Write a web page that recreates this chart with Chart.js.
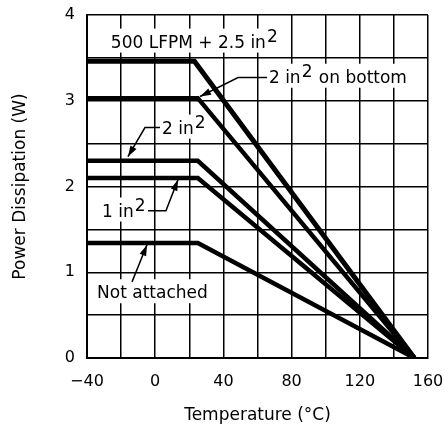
<!DOCTYPE html>
<html>
<head>
<meta charset="utf-8">
<script src="https://cdn.jsdelivr.net/npm/chart.js@4"></script>
<style>
html,body{margin:0;padding:0;background:#fff;}
#wrap{width:445px;height:430px;}
</style>
</head>
<body>
<div id="wrap"><canvas id="pd"></canvas></div>
<script>
//========== data ==========
const curveNames = ['500 LFPM + 2.5 in2', '2 in2 on bottom', '2 in2', '1 in2', 'Not attached'];
const flatPower = [3.46, 3.03, 2.30, 2.10, 1.34];   // W, flat part
const kneeTemp = [23, 25, 25, 25, 25];              // degC where derating starts
const startTemp = -40;
const endTemp = 152;                                // all curves reach 0 W here
const curveWidths = [5, 4.5, 4.5, 4.5, 4.5];

const xLabelled = [-40, 0, 40, 80, 120, 160];
const yLabelled = [0, 1, 2, 3, 4];

// callouts: parts are [normal, superscript, normal]; lead = polyline ending at arrow tip
const notes = [
	{ parts: ['500 LFPM + 2.5 in', '2', ''], x: -26, y: 3.62 },
	{ parts: ['2 in', '2', ' on bottom'], x: 66.7, y: 3.21, lead: [[65.6, 3.27], [48.6, 3.27], [26.3, 3.05]] },
	{ parts: ['2 in', '2', ''], x: 4, y: 2.617, lead: [[2.8, 2.687], [-6, 2.687], [-16, 2.348]] },
	{ parts: ['1 in', '2', ''], x: -31.2, y: 1.65, lead: [[-4.2, 1.717], [6.3, 1.717], [13.4, 2.08]] },
	{ parts: ['Not attached', '', ''], x: -34.1, y: 0.697, lead: [[-13.6, 0.888], [-4.8, 1.32]] }
];
//=======================================================

let datasets = [];
curveNames.forEach((name, i) => {
	datasets.push({
		label: name,
		data: [
			{ x: startTemp, y: flatPower[i] },
			{ x: kneeTemp[i], y: flatPower[i] },
			{ x: endTemp, y: 0 }
		],
		borderColor: '#000',
		borderWidth: curveWidths[i],
		pointRadius: 0,
		tension: 0,
		fill: false
	});
});

const FONT = 'DejaVu Sans';

const notesPlugin = {
	id: 'notes',
	beforeDatasetsDraw(chart) {
		const ctx = chart.ctx;
		const xs = chart.scales.x, ys = chart.scales.y;
		ctx.save();
		ctx.font = '17px "' + FONT + '"';
		ctx.textBaseline = 'alphabetic';
		ctx.textAlign = 'left';
		notes.forEach(n => {
			const px = xs.getPixelForValue(n.x);
			const py = ys.getPixelForValue(n.y);
			const w0 = ctx.measureText(n.parts[0]).width;
			const w1 = ctx.measureText(n.parts[1]).width;
			const w2 = ctx.measureText(n.parts[2]).width;
			// white box hides the grid behind the text
			ctx.fillStyle = '#fff';
			ctx.fillRect(px - 3, py - 19, w0 + w1 + w2 + 6, 24);
			ctx.fillStyle = '#000';
			ctx.fillText(n.parts[0], px, py);
			if (n.parts[1]) ctx.fillText(n.parts[1], px + w0 + 1, py - 6);
			if (n.parts[2]) ctx.fillText(n.parts[2], px + w0 + w1 + 2, py);
			if (n.lead) {
				const pts = n.lead.map(p => [xs.getPixelForValue(p[0]), ys.getPixelForValue(p[1])]);
				ctx.strokeStyle = '#000';
				ctx.lineWidth = 1.5;
				ctx.beginPath();
				ctx.moveTo(pts[0][0], pts[0][1]);
				for (let k = 1; k < pts.length; k++) ctx.lineTo(pts[k][0], pts[k][1]);
				ctx.stroke();
				// arrow head
				const a = pts[pts.length - 2], b = pts[pts.length - 1];
				const ang = Math.atan2(b[1] - a[1], b[0] - a[0]);
				const L = 11, W = 3.5;
				ctx.beginPath();
				ctx.moveTo(b[0], b[1]);
				ctx.lineTo(b[0] - L * Math.cos(ang) + W * Math.sin(ang), b[1] - L * Math.sin(ang) - W * Math.cos(ang));
				ctx.lineTo(b[0] - L * Math.cos(ang) - W * Math.sin(ang), b[1] - L * Math.sin(ang) + W * Math.cos(ang));
				ctx.closePath();
				ctx.fill();
			}
		});
		ctx.restore();
	}
};

const ctx = document.getElementById('pd').getContext('2d');
const myChart = new Chart(ctx, {
	type: 'line',
	data: { datasets: datasets },
	plugins: [notesPlugin],
	options: {
		responsive: true,
		maintainAspectRatio: false,
		animation: false,
		layout: { padding: { top: 15, right: 17, bottom: 0, left: 0 } },
		plugins: {
			legend: { display: false },
			tooltip: { enabled: false }
		},
		scales: {
			x: {
				type: 'linear',
				min: -40,
				max: 160,
				afterFit: s => { s.height = 72; s.paddingLeft = 0; s.paddingRight = 0; },
				border: { color: '#000', width: 2 },
				grid: { color: '#000', lineWidth: 1.5, drawTicks: false },
				ticks: {
					stepSize: 20,
					autoSkip: false,
					maxRotation: 0,
					minRotation: 0,
					padding: 14,
					color: '#000',
					font: { family: FONT, size: 16 },
					callback: v => xLabelled.includes(v) ? String(v).replace('-', '\u2212') : ''
				},
				title: {
					display: true,
					text: 'Temperature (\u00B0C)',
					color: '#000',
					font: { family: FONT, size: 17 },
					padding: { top: 0, bottom: 4 }
				}
			},
			y: {
				min: 0,
				max: 4,
				afterFit: s => { s.width = 87; s.paddingTop = 0; s.paddingBottom = 0; },
				border: { color: '#000', width: 2 },
				grid: { color: '#000', lineWidth: 1.5, drawTicks: false },
				ticks: {
					stepSize: 0.5,
					autoSkip: false,
					padding: 12,
					color: '#000',
					font: { family: FONT, size: 16 },
					callback: v => yLabelled.includes(v) ? String(v) : ''
				},
				title: {
					display: true,
					text: 'Power Dissipation (W)',
					color: '#000',
					font: { family: FONT, size: 17 },
					padding: { top: 10, bottom: 0 }
				}
			}
		}
	}
});
</script>
</body>
</html>
